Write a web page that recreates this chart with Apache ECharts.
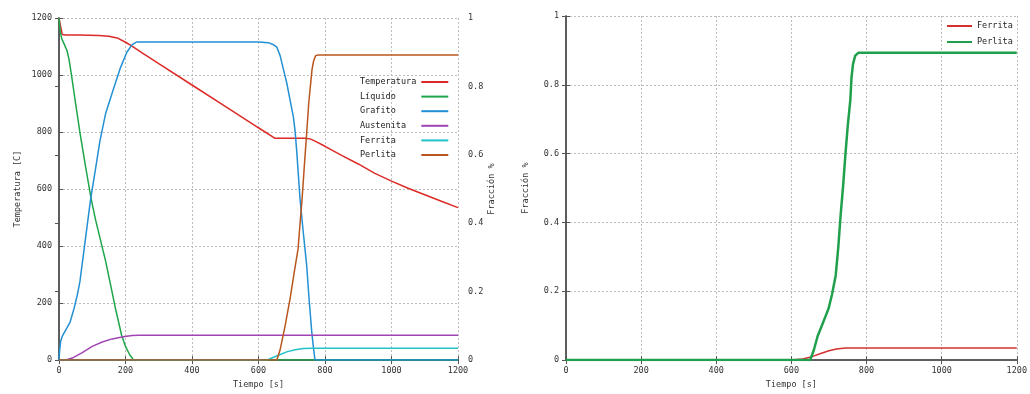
<!DOCTYPE html>
<html>
<head>
<meta charset="utf-8">
<script src="https://cdn.jsdelivr.net/npm/echarts@6/dist/echarts.min.js"></script>
<style>
  html, body { margin: 0; padding: 0; background: #fff; }
  #chart { width: 1030px; height: 394px; }
</style>
</head>
<body>
<div id="chart"></div>
<script>
// tiempos [s] y valores
const tempTime = [0, 5, 10, 20, 60, 120, 150, 175, 200, 215, 250, 300, 400, 500, 600, 650, 660, 700, 740, 755, 770, 800, 850, 900, 950, 1000, 1050, 1100, 1150, 1200]
const tempVal = [1200, 1170, 1142, 1140, 1140, 1139, 1136, 1130, 1115, 1105, 1078, 1040, 965, 890, 815, 778, 778, 778, 778, 776, 768, 750, 718, 688, 655, 628, 603, 580, 557, 535]

const liqTime = [0, 4, 8, 15, 24, 30, 38, 50, 63, 80, 97, 110, 125, 140, 153, 170, 188, 200, 213, 225, 1200]
const liqVal = [1.0, 0.96, 0.94, 0.925, 0.905, 0.88, 0.83, 0.75, 0.665, 0.565, 0.47, 0.41, 0.35, 0.29, 0.23, 0.15, 0.074, 0.04, 0.015, 0, 0]

const grafTime = [0, 2, 5, 10, 18, 33, 45, 55, 63, 75, 85, 95, 110, 123, 140, 163, 185, 204, 220, 234, 600, 630, 645, 655, 665, 675, 685, 695, 705, 710, 715, 720, 725, 735, 745, 752, 760, 766, 770, 1200]
const grafVal = [0, 0.03, 0.055, 0.07, 0.084, 0.11, 0.15, 0.19, 0.23, 0.32, 0.395, 0.47, 0.56, 0.64, 0.72, 0.79, 0.855, 0.9, 0.922, 0.93, 0.93, 0.928, 0.922, 0.915, 0.89, 0.85, 0.81, 0.76, 0.71, 0.67, 0.61, 0.54, 0.47, 0.37, 0.276, 0.18, 0.084, 0.03, 0, 0]

const ausTime = [0, 18, 40, 70, 100, 130, 160, 193, 220, 240, 1200]
const ausVal = [0, 0, 0.006, 0.022, 0.04, 0.053, 0.062, 0.068, 0.072, 0.073, 0.073]

const ferTime = [0, 625, 640, 660, 685, 710, 735, 760, 1200]
const ferVal = [0, 0, 0.006, 0.014, 0.024, 0.03, 0.034, 0.035, 0.035]

const perTime = [0, 655, 665, 680, 695, 708, 719, 725, 731, 738, 745, 751, 756, 761, 766, 772, 780, 1200]
const perVal = [0, 0, 0.03, 0.1, 0.18, 0.26, 0.325, 0.4, 0.47, 0.57, 0.665, 0.75, 0.8, 0.85, 0.875, 0.89, 0.892, 0.892]

// grafico derecho
const ferDerTime = [0, 600, 630, 655, 680, 700, 720, 744, 1200]
const ferDerVal = [0, 0, 0.003, 0.01, 0.02, 0.027, 0.032, 0.035, 0.035]

const perDerTime = [0, 650, 660, 670, 681, 690, 699, 708, 718, 725, 731, 738, 744, 750, 757, 760, 764, 770, 778, 1200]
const perDerVal = [0, 0, 0.03, 0.07, 0.1, 0.125, 0.15, 0.19, 0.246, 0.33, 0.42, 0.51, 0.6, 0.68, 0.757, 0.82, 0.86, 0.885, 0.893, 0.893]

const legendIzq = ['Temperatura', 'Líquido', 'Grafito', 'Austenita', 'Ferrita', 'Perlita']
const legendDer = ['Ferrita ', 'Perlita ']

function zip(t, v) {
  return t.map((x, i) => [x, v[i]])
}

const font = 'DejaVu Sans Mono'
const labelStyle = { color: '#333', fontFamily: font, fontSize: 8.5 }
const plain = v => String(v)
const boxLine = { show: true, lineStyle: { color: '#555', width: 1.5 } }
const dotted = { show: true, lineStyle: { color: '#bdbdbd', type: [2, 2], width: 1 } }
const tickIn = { show: true, inside: true, length: 4, lineStyle: { color: '#555' } }

function xAxisBottom(grid) {
  return {
    type: 'value', gridIndex: grid, min: 0, max: 1200, interval: 200,
    name: 'Tiempo [s]', nameLocation: 'middle', nameGap: 19,
    nameTextStyle: labelStyle,
    axisLine: boxLine, axisTick: tickIn, splitLine: dotted,
    axisLabel: Object.assign({ margin: 6, formatter: plain }, labelStyle)
  }
}
function xAxisTop(grid) {
  return {
    type: 'value', gridIndex: grid, position: 'top', min: 0, max: 1200, interval: 200,
    axisLine: boxLine, axisTick: tickIn, splitLine: { show: false }, axisLabel: { show: false }
  }
}

const lw = 1.5
function serie(name, t, v, color, xi, yi, width) {
  return {
    name: name, type: 'line', xAxisIndex: xi, yAxisIndex: yi,
    data: zip(t, v), showSymbol: false, symbol: 'none', animation: false,
    lineStyle: { color: color, width: width || lw }, itemStyle: { color: color }
  }
}

const chart = echarts.init(document.getElementById('chart'))

chart.setOption({
  animation: false,
  grid: [
    { left: 59, right: 572, top: 18, bottom: 32 },
    { left: 566, right: 11, top: 16, bottom: 32 }
  ],
  xAxis: [xAxisBottom(0), xAxisTop(0), xAxisBottom(1), xAxisTop(1)],
  yAxis: [
    {
      type: 'value', gridIndex: 0, min: 0, max: 1200, interval: 200,
      name: 'Temperatura [C]', nameLocation: 'middle', nameGap: 37, nameTextStyle: labelStyle,
      axisLine: boxLine, axisTick: tickIn, splitLine: dotted,
      axisLabel: Object.assign({ margin: 7, formatter: plain }, labelStyle)
    },
    {
      type: 'value', gridIndex: 0, position: 'right', min: 0, max: 1, interval: 0.2,
      name: 'Fracción %', nameLocation: 'middle', nameGap: 29, nameTextStyle: labelStyle,
      axisLine: boxLine, axisTick: tickIn, splitLine: { show: false },
      axisLabel: Object.assign({ margin: 10, formatter: plain }, labelStyle)
    },
    {
      type: 'value', gridIndex: 1, min: 0, max: 1, interval: 0.2,
      name: 'Fracción %', nameLocation: 'middle', nameGap: 36, nameTextStyle: labelStyle,
      axisLine: boxLine, axisTick: tickIn, splitLine: dotted,
      axisLabel: Object.assign({ margin: 7, formatter: plain }, labelStyle)
    },
    {
      type: 'value', gridIndex: 1, position: 'right', min: 0, max: 1, interval: 0.2,
      axisLine: boxLine, axisTick: tickIn, splitLine: { show: false }, axisLabel: { show: false }
    }
  ],
  legend: [
    {
      data: legendIzq,
      orient: 'vertical', left: 355, top: 72, align: 'right',
      icon: 'rect', itemWidth: 27, itemHeight: 2, itemGap: 4.6,
      formatter: name => name.padEnd(11, '\u00a0'),
      textStyle: { color: '#222', fontFamily: font, fontSize: 8.5, lineHeight: 10 }
    },
    {
      data: legendDer,
      orient: 'vertical', left: 942, top: 16,
      icon: 'rect', itemWidth: 25, itemHeight: 2, itemGap: 6,
      formatter: name => name.trim(),
      textStyle: { color: '#222', fontFamily: font, fontSize: 8.5, lineHeight: 10 }
    }
  ],
  series: [
    serie('Temperatura', tempTime, tempVal, '#dc2a26', 0, 0),
    serie('Líquido', liqTime, liqVal, '#1ea64a', 0, 1),
    serie('Grafito', grafTime, grafVal, '#2390d4', 0, 1),
    serie('Austenita', ausTime, ausVal, '#a044b4', 0, 1),
    serie('Ferrita', ferTime, ferVal, '#22c3c8', 0, 1),
    serie('Perlita', perTime, perVal, '#b9561e', 0, 1),
    serie('Ferrita ', ferDerTime, ferDerVal, '#d4302e', 2, 2),
    serie('Perlita ', perDerTime, perDerVal, '#20a04c', 2, 2, 2.5)
  ]
})
</script>
</body>
</html>
